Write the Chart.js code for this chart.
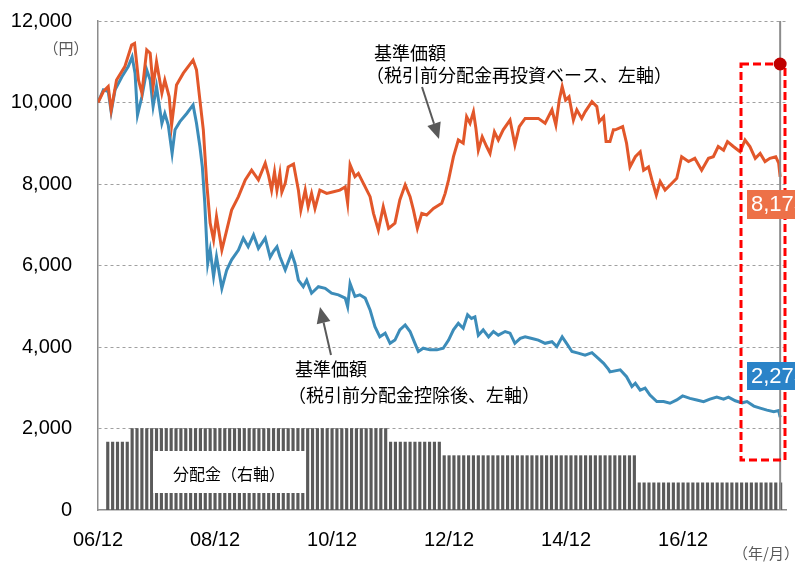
<!DOCTYPE html>
<html lang="ja">
<head>
<meta charset="utf-8">
<script src="https://cdn.jsdelivr.net/npm/chart.js@4.4.1/dist/chart.umd.min.js"></script>
<style>
  html, body { margin: 0; padding: 0; background: #fff; }
  canvas { display: block; }
</style>
</head>
<body>
<canvas id="chart" width="795" height="564"></canvas>
<script>
// x = 2006/12 からの経過月数
const tickMonths = [0, 24, 48, 72, 96, 120];
const tickLabels = ['06/12', '08/12', '10/12', '12/12', '14/12', '16/12'];

// 基準価額（税引前分配金再投資ベース）
const reinvMonths = [0, 1.1, 2.1, 2.7, 3.8, 5.5, 6.9, 7.5, 8.3, 9.0, 10.0, 10.7, 11.3, 12.0, 13.1, 13.7, 14.6, 15.1, 16.1, 17.5,
  19.5, 20.2, 20.9, 21.6, 22.3, 23.0, 23.7, 24.3, 25.4, 26.4, 27.4, 28.8, 30.2, 31.5, 32.9, 34.3, 35.0, 35.6, 36.2, 36.7,
  37.3, 37.7, 38.4, 39.0, 40.1, 41.1, 41.6, 42.5, 43.1, 43.8, 44.5, 45.5, 46.9, 48.3, 49.6, 50.7, 51.2, 51.7, 52.7, 53.4,
  54.4, 55.8, 56.5, 57.5, 58.5, 59.6, 60.9, 61.9, 63.0, 64.0, 64.7, 65.5, 66.4, 67.4, 68.8, 70.5, 71.2, 71.9, 72.9, 73.9,
  74.9, 75.6, 76.3, 77.0, 77.5, 78.0, 78.8, 79.7, 80.4, 81.3, 82.1, 83.1, 84.5, 85.5, 86.4, 87.6, 89.0, 90.3, 91.7, 93.1,
  93.9, 94.6, 95.2, 95.9, 96.6, 97.5, 98.2, 99.2, 99.9, 101.3, 102.3, 102.8, 103.7, 104.2, 105.0, 105.7, 106.1, 107.6, 108.4, 109.1,
  110.2, 111.2, 111.9, 112.9, 113.6, 114.5, 115.3, 116.3, 117.7, 118.7, 119.7, 121.1, 122.4, 123.8, 125.2, 126.2, 127.2, 128.3, 129.1, 130.3,
  131.7, 132.7, 133.7, 134.8, 135.8, 136.8, 137.8, 139.0, 139.6, 139.9];
const reinvValues = [10000, 10270, 10390, 9815, 10550, 10880, 11410, 11450, 10550, 10230, 11290, 11210, 10390, 11000, 10230, 10550, 10140, 9450, 10430, 10720,
  11040, 10800, 10060, 9330, 8020, 7040, 6630, 7200, 6380, 6870, 7360, 7690, 8100, 8340, 8100, 8510, 8200, 7850, 8300, 7850,
  8260, 7800, 8020, 8420, 8490, 7850, 7360, 7850, 7440, 7770, 7400, 7850, 7770, 7810, 7850, 7930, 7530, 8470, 8180, 8260,
  8020, 7690, 7280, 6870, 7440, 6910, 7040, 7610, 7980, 7690, 7360, 6910, 7280, 7240, 7400, 7530, 7770, 8100, 8670, 9080,
  9000, 9650, 9490, 9770, 9370, 8830, 9160, 8920, 8750, 9280, 9080, 9330, 9570, 8960, 9410, 9610, 9610, 9610, 9490, 9820,
  9450, 10060, 10390, 10060, 10140, 9570, 9820, 9610, 9770, 10020, 9900, 9530, 9650, 9040, 9040, 9330, 9330, 9410, 9000, 8420,
  8670, 8790, 8340, 8420, 8100, 7730, 8060, 7850, 8020, 8140, 8670, 8550, 8630, 8340, 8630, 8670, 8920, 8830, 9040, 8920,
  8790, 9080, 8920, 8630, 8750, 8550, 8630, 8670, 8510, 8175];

// 基準価額（税引前分配金控除後）
const navMonths = [0, 1.1, 2.1, 2.7, 3.5, 4.9, 6.2, 7.0, 7.6, 8.1, 9.0, 10.0, 10.7, 11.3, 12.0, 13.1, 13.7, 14.4, 15.2, 15.8,
  16.8, 18.2, 19.5, 20.2, 20.9, 21.4, 21.9, 22.5, 23.0, 23.7, 24.3, 25.4, 26.4, 27.4, 28.8, 29.8, 30.8, 31.9, 32.9, 34.3,
  35.3, 36.0, 36.7, 37.3, 38.4, 39.7, 40.4, 41.1, 42.1, 42.8, 43.8, 45.2, 46.6, 47.9, 49.3, 50.7, 51.2, 51.7, 52.7, 53.7,
  54.8, 55.8, 56.8, 57.8, 58.9, 59.9, 60.9, 61.9, 63.0, 64.0, 65.0, 65.7, 66.7, 68.1, 69.5, 70.8, 71.9, 72.9, 73.9, 74.9,
  75.8, 76.6, 77.3, 78.0, 79.0, 80.1, 81.1, 82.1, 83.5, 84.5, 85.5, 86.6, 87.6, 89.0, 90.3, 91.7, 93.1, 94.1, 95.2, 96.1,
  97.2, 98.5, 99.9, 101.3, 102.6, 103.7, 104.7, 105.0, 107.1, 108.4, 109.5, 110.2, 111.2, 112.2, 113.2, 114.6, 116.0, 117.3, 118.7, 119.9,
  121.4, 122.8, 124.2, 125.5, 126.9, 128.3, 129.3, 130.7, 132.1, 133.1, 134.5, 135.8, 137.2, 138.6, 139.6, 139.9];
const navValues = [10000, 10310, 10270, 9770, 10310, 10630, 10880, 11120, 10720, 9690, 10140, 10800, 10550, 9900, 10390, 9490, 9730, 9450, 8750, 9330,
  9530, 9730, 9940, 9490, 8920, 8420, 7530, 6050, 6380, 5730, 6220, 5440, 5890, 6140, 6380, 6670, 6460, 6750, 6420, 6670,
  6200, 6350, 6460, 6220, 5890, 6300, 6050, 5640, 5480, 5640, 5320, 5480, 5440, 5320, 5280, 5200, 4990, 5560, 5240, 5280,
  5200, 4910, 4500, 4250, 4340, 4090, 4170, 4420, 4540, 4380, 4090, 3890, 3970, 3930, 3930, 3970, 4170, 4420, 4580, 4460,
  4790, 4700, 4740, 4290, 4420, 4250, 4380, 4290, 4380, 4340, 4090, 4210, 4250, 4210, 4170, 4090, 4130, 4010, 4250, 4090,
  3890, 3850, 3800, 3860, 3720, 3600, 3450, 3390, 3440, 3270, 3030, 3110, 2940, 2990, 2820, 2660, 2660, 2620, 2700, 2800,
  2740, 2700, 2660, 2720, 2770, 2720, 2770, 2680, 2630, 2660, 2550, 2500, 2450, 2410, 2440, 2275];

// 分配金（毎月、2007/02〜2018/08）
const distStartMonth = 2;
const distValues = [
  50, 50, 50, 50, 50, 60, 60, 60, 60, 60, 60,           // 2007/02-
  60, 60, 60, 60, 60, 60, 60, 60, 60, 60, 60, 60,       // 2008
  60, 60, 60, 60, 60, 60, 60, 60, 60, 60, 60, 60,       // 2009
  60, 60, 60, 60, 60, 60, 60, 60, 60, 60, 60, 60,       // 2010
  60, 60, 60, 60, 60, 60, 60, 60, 60, 60, 60, 50,       // 2011
  50, 50, 50, 50, 50, 50, 50, 50, 50, 50, 40, 40,       // 2012
  40, 40, 40, 40, 40, 40, 40, 40, 40, 40, 40, 40,       // 2013
  40, 40, 40, 40, 40, 40, 40, 40, 40, 40, 40, 40,       // 2014
  40, 40, 40, 40, 40, 40, 40, 40, 40, 40, 40, 40,       // 2015
  40, 40, 20, 20, 20, 20, 20, 20, 20, 20, 20, 20,       // 2016
  20, 20, 20, 20, 20, 20, 20, 20, 20, 20, 20, 20,       // 2017
  20, 20, 20, 20, 20, 20, 20, 20                        // 2018
];

const JP = '"Noto Sans CJK JP", "Noto Sans", sans-serif';
const NUM = '"Liberation Sans", Arial, sans-serif';

const toPoints = (xs, ys) => xs.map((m, i) => ({ x: m, y: ys[i] }));
const lastMonth = reinvMonths[reinvMonths.length - 1];

function arrow(ctx, x1, y1, x2, y2) {
  const a = Math.atan2(y2 - y1, x2 - x1);
  const len = 16, half = 7;
  const bx = x2 - len * Math.cos(a), by = y2 - len * Math.sin(a);
  ctx.strokeStyle = '#595959';
  ctx.fillStyle = '#595959';
  ctx.lineWidth = 2;
  ctx.beginPath();
  ctx.moveTo(x1, y1);
  ctx.lineTo(bx, by);
  ctx.stroke();
  ctx.beginPath();
  ctx.moveTo(x2, y2);
  ctx.lineTo(bx + half * Math.sin(a), by - half * Math.cos(a));
  ctx.lineTo(bx - half * Math.sin(a), by + half * Math.cos(a));
  ctx.closePath();
  ctx.fill();
}

const annotate = {
  id: 'annotate',
  afterDatasetsDraw(chart) {
    const { ctx, chartArea, scales } = chart;
    const xe = scales.x.getPixelForValue(lastMonth);
    ctx.save();

    // 右端の縦線
    ctx.strokeStyle = '#8c8c8c';
    ctx.lineWidth = 2;
    ctx.beginPath();
    ctx.moveTo(xe, chartArea.top);
    ctx.lineTo(xe, chartArea.bottom);
    ctx.stroke();

    // 分配金ラベル
    ctx.fillStyle = '#fff';
    ctx.fillRect(153, 451, 152, 42);
    ctx.fillStyle = '#000';
    ctx.font = '16px ' + JP;
    ctx.textAlign = 'center';
    ctx.textBaseline = 'middle';
    ctx.fillText('分配金（右軸）', 229, 474);

    // 系列ラベル
    ctx.font = '18px ' + JP;
    ctx.textAlign = 'left';
    ctx.fillText('基準価額', 374, 53);
    ctx.fillText('（税引前分配金再投資ベース、左軸）', 366, 75);
    ctx.fillText('基準価額', 295, 369);
    ctx.fillText('（税引前分配金控除後、左軸）', 288, 395);
    arrow(ctx, 422, 87, 439, 139);
    arrow(ctx, 331, 355, 320, 307);

    // 単位
    ctx.font = '15px ' + JP;
    ctx.textAlign = 'center';
    ctx.fillText('（円）', 66, 48);
    ctx.fillText('（年/月）', 766, 553);

    // 赤い点線枠
    ctx.strokeStyle = '#ff0000';
    ctx.lineWidth = 3;
    ctx.setLineDash([8, 4]);
    ctx.strokeRect(741, 64, 44, 396);
    ctx.setLineDash([]);

    // 直近値ラベル
    ctx.font = '22px ' + NUM;
    ctx.textAlign = 'left';
    ctx.fillStyle = '#ed7148';
    ctx.fillRect(747, 190, 60, 29);
    ctx.fillStyle = '#fff';
    ctx.fillText(reinvValues[reinvValues.length - 1].toLocaleString('en-US'), 751, 205);
    ctx.fillStyle = '#2a83c8';
    ctx.fillRect(747, 362, 60, 28);
    ctx.fillStyle = '#fff';
    ctx.fillText(navValues[navValues.length - 1].toLocaleString('en-US'), 751, 377);

    // 赤丸
    ctx.fillStyle = '#c00000';
    ctx.beginPath();
    ctx.arc(xe, 64, 6.5, 0, Math.PI * 2);
    ctx.fill();
    ctx.restore();
  }
};

new Chart(document.getElementById('chart'), {
  type: 'line',
  data: {
    datasets: [
      {
        label: '基準価額（税引前分配金再投資ベース）',
        data: toPoints(reinvMonths, reinvValues),
        borderColor: '#e2572a',
        borderWidth: 3,
        pointRadius: 0,
        tension: 0,
        order: 1
      },
      {
        label: '基準価額（税引前分配金控除後）',
        data: toPoints(navMonths, navValues),
        borderColor: '#3c8cb9',
        borderWidth: 3,
        pointRadius: 0,
        tension: 0,
        order: 2
      },
      {
        type: 'bar',
        label: '分配金',
        data: distValues.map((v, i) => ({ x: distStartMonth + i, y: v })),
        yAxisID: 'y2',
        backgroundColor: '#5a5a5a',
        barThickness: 2.5,
        order: 3
      }
    ]
  },
  options: {
    responsive: false,
    animation: false,
    devicePixelRatio: 1,
    layout: { padding: { top: 21, right: 9, left: 0, bottom: 0 } },
    plugins: { legend: { display: false }, tooltip: { enabled: false } },
    scales: {
      x: {
        type: 'linear',
        offset: false,
        min: 0,
        max: 141.1,
        afterBuildTicks: s => { s.ticks = tickMonths.map(v => ({ value: v })); },
        afterFit: s => { s.height = 54; },
        ticks: {
          autoSkip: false,
          maxRotation: 0,
          padding: 10,
          color: '#000',
          font: { family: NUM, size: 20 },
          callback: v => tickLabels[tickMonths.indexOf(v)]
        },
        grid: { display: false, offset: false },
        border: { display: true, color: '#8c8c8c', width: 1.5 }
      },
      y: {
        min: 0,
        max: 12000,
        afterFit: s => { s.width = 98; },
        ticks: {
          stepSize: 2000,
          padding: 0,
          color: '#000',
          font: { family: NUM, size: 20 },
          callback: v => v.toLocaleString('en-US')
        },
        grid: {
          drawTicks: true,
          tickLength: 26,
          tickColor: 'rgba(0,0,0,0)',
          lineWidth: 1,
          color: c => (c.tick && c.tick.value === 0 ? 'rgba(0,0,0,0)' : '#a0a0a0')
        },
        border: { display: true, color: '#8c8c8c', width: 1.5, dash: [3, 3] }
      },
      y2: {
        display: false,
        position: 'right',
        min: 0,
        max: 360
      }
    }
  },
  plugins: [annotate]
});
</script>
</body>
</html>
